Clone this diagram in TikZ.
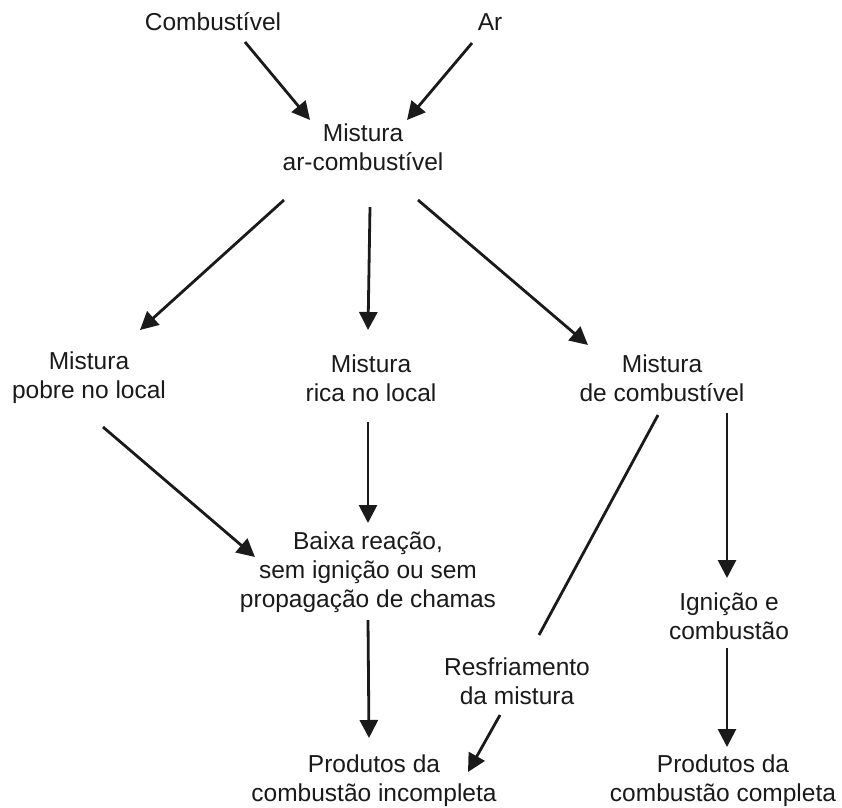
\documentclass[tikz,border=0pt]{standalone}
\usepackage{fontspec}
\setmainfont{Liberation Sans}
\usetikzlibrary{arrows.meta}
\definecolor{ink}{HTML}{1A1A1A}
\tikzset{
  lbl/.style={align=center, inner sep=0pt, text=ink, font=\fontsize{24.5}{29}\selectfont},
  conn/.style={draw=ink, line width=2.8pt},
  arr/.style={conn, -{Triangle[length=18pt,width=18pt]}}
}
\begin{document}
\begin{tikzpicture}[x=1pt,y=-1pt]
\useasboundingbox (0,0) rectangle (842,807);
\node[lbl] (comb) at (213,22) {Combustível};
\node[lbl] (ar) at (490,22) {Ar};
\node[lbl] (mac) at (363,147) {Mistura\\ar-combustível};
\node[lbl] (pobre) at (89,378) {Mistura\\pobre no local};
\node[lbl] (rica) at (371,378) {Mistura\\rica no local};
\node[lbl] (decomb) at (662,378) {Mistura\\de combustível};
\node[lbl] (baixa) at (368,572) {Baixa reação,\\sem ignição ou sem\\propagação de chamas};
\node[lbl] (resf) at (517,681) {Resfriamento\\da mistura};
\node[lbl] (ign) at (729,616) {Ignição e\\combustão};
\node[lbl] (pinc) at (374,781) {Produtos da\\combustão incompleta};
\node[lbl] (pcomp) at (723,781) {Produtos da\\combustão completa};

\draw[arr] ([shift={(32,20)}]comb.center) -- ([shift={(-53,-27)}]mac.center);
\draw[arr] ([shift={(-18,21)}]ar.center) -- ([shift={(44,-27)}]mac.center);
\draw[arr] ([shift={(-79,53)}]mac.center) -- ([shift={(51,-48)}]pobre.center);
\draw[arr] ([shift={(7,60)}]mac.center) -- ([shift={(-3,-48)}]rica.center);
\draw[arr] ([shift={(55,53)}]mac.center) -- ([shift={(-74,-33)}]decomb.center);
\draw[arr] ([shift={(14,49)}]pobre.center) -- ([shift={(-113,-15)}]baixa.center);
\draw[arr] ([shift={(-3,44)}]rica.center) -- ([shift={(0,-49)}]baixa.center);
\draw[arr] ([shift={(0,48)}]baixa.center) -- ([shift={(-5,-43)}]pinc.center);
\draw[conn] ([shift={(-4,37)}]decomb.center) -- ([shift={(22,-46)}]resf.center);
\draw[arr] ([shift={(-17,34)}]resf.center) -- ([shift={(94,-9)}]pinc.center);
\draw[arr] ([shift={(65,35)}]decomb.center) -- ([shift={(-2,-38)}]ign.center);
\draw[arr] ([shift={(-2,32)}]ign.center) -- ([shift={(4,-34)}]pcomp.center);
\end{tikzpicture}
\end{document}
